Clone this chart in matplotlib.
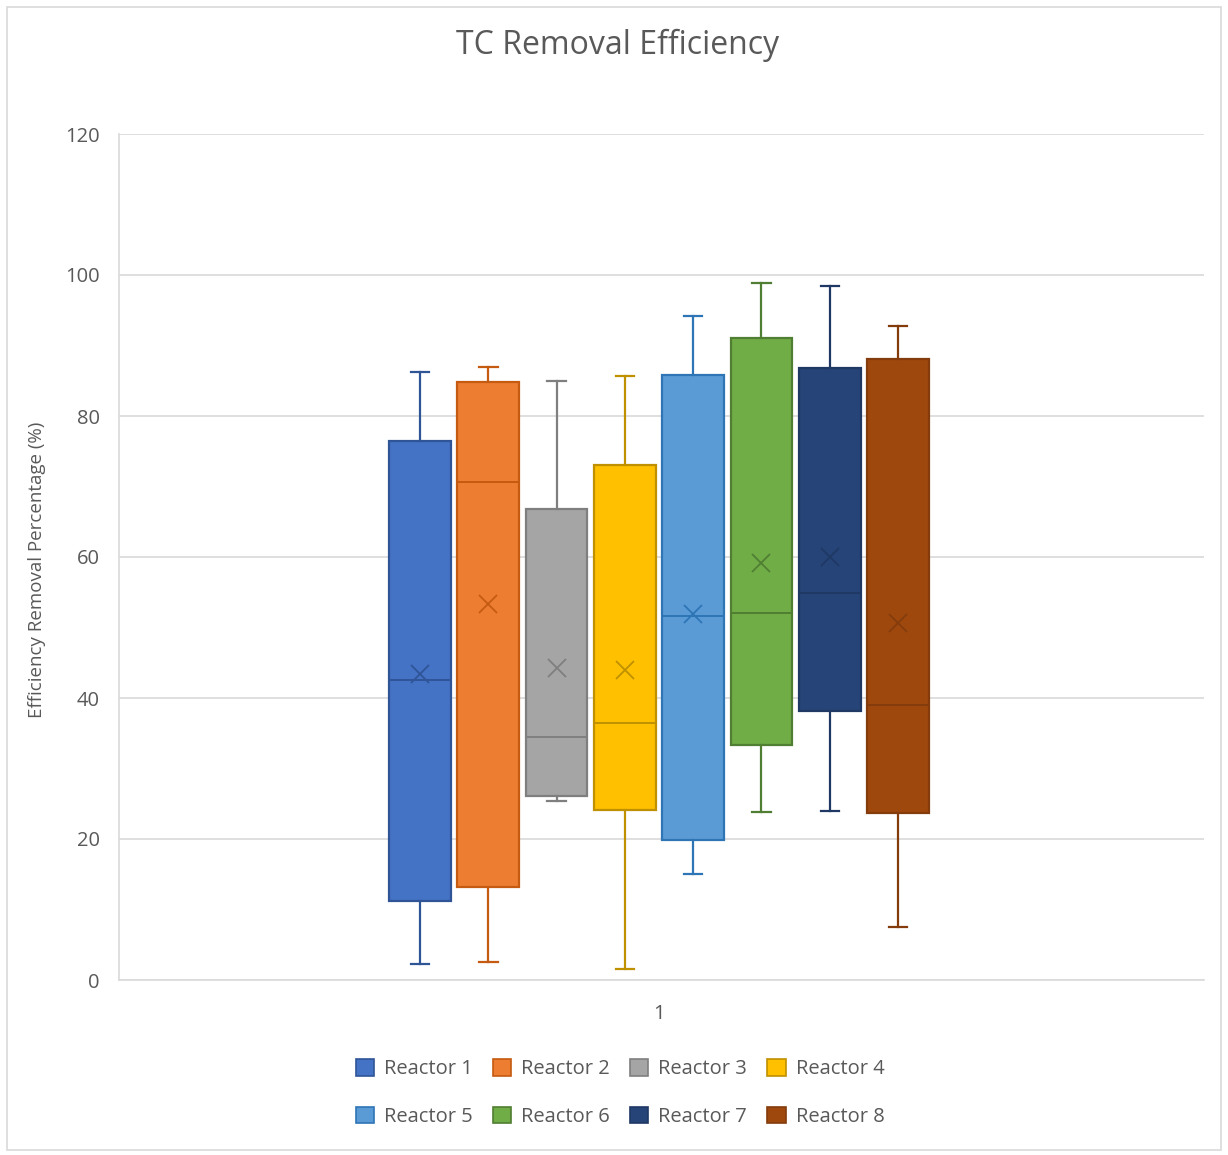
import matplotlib
matplotlib.use("Agg")
import matplotlib.pyplot as plt
from matplotlib.patches import Patch, Rectangle

plt.rcParams['font.family'] = ['Open Sans', 'DejaVu Sans']

reactors = ["Reactor 1", "Reactor 2", "Reactor 3", "Reactor 4",
            "Reactor 5", "Reactor 6", "Reactor 7", "Reactor 8"]
mins    = [2.3, 2.6, 25.4, 1.6, 15.0, 23.8, 24.0, 7.5]
q1s     = [11.2, 13.2, 26.1, 24.1, 19.9, 33.3, 38.2, 23.7]
medians = [42.5, 70.6, 34.5, 36.5, 51.6, 52.1, 54.9, 39.0]
q3s     = [76.5, 84.8, 66.8, 73.0, 85.8, 91.1, 86.8, 88.1]
maxs    = [86.2, 87.0, 85.0, 85.7, 94.2, 98.9, 98.4, 92.8]
means   = [43.4, 53.3, 44.3, 44.0, 51.9, 59.1, 60.0, 50.6]
category_labels = ["1"]
yticks = [0, 20, 40, 60, 80, 100, 120]

fills = ["#4472C4", "#ED7D31", "#A5A5A5", "#FFC000",
         "#5B9BD5", "#70AD47", "#264478", "#9E480E"]
edges = ["#2F5597", "#C55A11", "#7F7F7F", "#BF9000",
         "#2E75B6", "#507E32", "#1F3864", "#843C0C"]

txt = "#595959"
fig = plt.figure(figsize=(12.28, 11.55), dpi=100)
fig.patches.append(Rectangle((0.006, 0.004), 0.988, 0.99, transform=fig.transFigure,
                             fill=False, edgecolor="#D9D9D9", linewidth=1.2))
ax = fig.add_axes([119/1228, 1 - 980/1155, (1204-119)/1228, (980-134)/1155])

stats = []
for i in range(len(reactors)):
    stats.append(dict(label=reactors[i], whislo=mins[i], q1=q1s[i], med=medians[i],
                      q3=q3s[i], whishi=maxs[i], mean=means[i], fliers=[]))

positions = list(range(1, len(reactors) + 1))
for i, s in enumerate(stats):
    ax.bxp([s], positions=[positions[i]], widths=0.905, patch_artist=True,
           showmeans=True, meanline=False, showfliers=False,
           boxprops=dict(facecolor=fills[i], edgecolor=edges[i], linewidth=1.6),
           medianprops=dict(color=edges[i], linewidth=1.4),
           whiskerprops=dict(color=edges[i], linewidth=1.6),
           capprops=dict(color=edges[i], linewidth=1.6),
           capwidths=0.27,
           meanprops=dict(marker='x', markeredgecolor=edges[i], markersize=13,
                          markeredgewidth=1.3),
           zorder=3)

ax.set_xlim(-3.407, 12.479)
ax.set_ylim(0, 120)
ax.set_yticks(yticks)
ax.set_yticklabels([str(v) for v in yticks], color=txt, fontsize=14.5)
ax.set_xticks([4.5])
ax.set_xticklabels(category_labels, color=txt, fontsize=14.5)
ax.tick_params(axis='y', length=0, pad=14)
ax.tick_params(axis='x', length=0, pad=17)
ax.grid(axis='y', color="#D9D9D9", linewidth=1.2, zorder=0)
ax.set_axisbelow(True)
for sp in ["top", "right"]:
    ax.spines[sp].set_visible(False)
ax.spines["bottom"].set_color("#D9D9D9")
ax.spines["left"].set_color("#D9D9D9")
ax.spines["bottom"].set_linewidth(1.2)
ax.spines["left"].set_linewidth(1.2)

ax.set_ylabel("Efficiency Removal Percentage (%)", color=txt, fontsize=13.5)
ax.yaxis.set_label_coords(-0.067, 0.485)
fig.text(0.503, 1 - 45/1155, "TC Removal Efficiency", ha='center', va='center',
         color=txt, fontsize=23)

order = [0, 4, 1, 5, 2, 6, 3, 7]
handles = [Patch(facecolor=fills[i], edgecolor=edges[i], linewidth=1.2) for i in order]
labels = [reactors[i] for i in order]
fig.legend(handles, labels, loc='center', bbox_to_anchor=(0.505, 1 - 1093/1155),
           ncol=4, frameon=False, fontsize=14.5, labelcolor=txt,
           handlelength=0.9, handleheight=0.9, columnspacing=1.0, handletextpad=0.5,
           labelspacing=1.35)

fig.savefig("out.png", dpi=100)
